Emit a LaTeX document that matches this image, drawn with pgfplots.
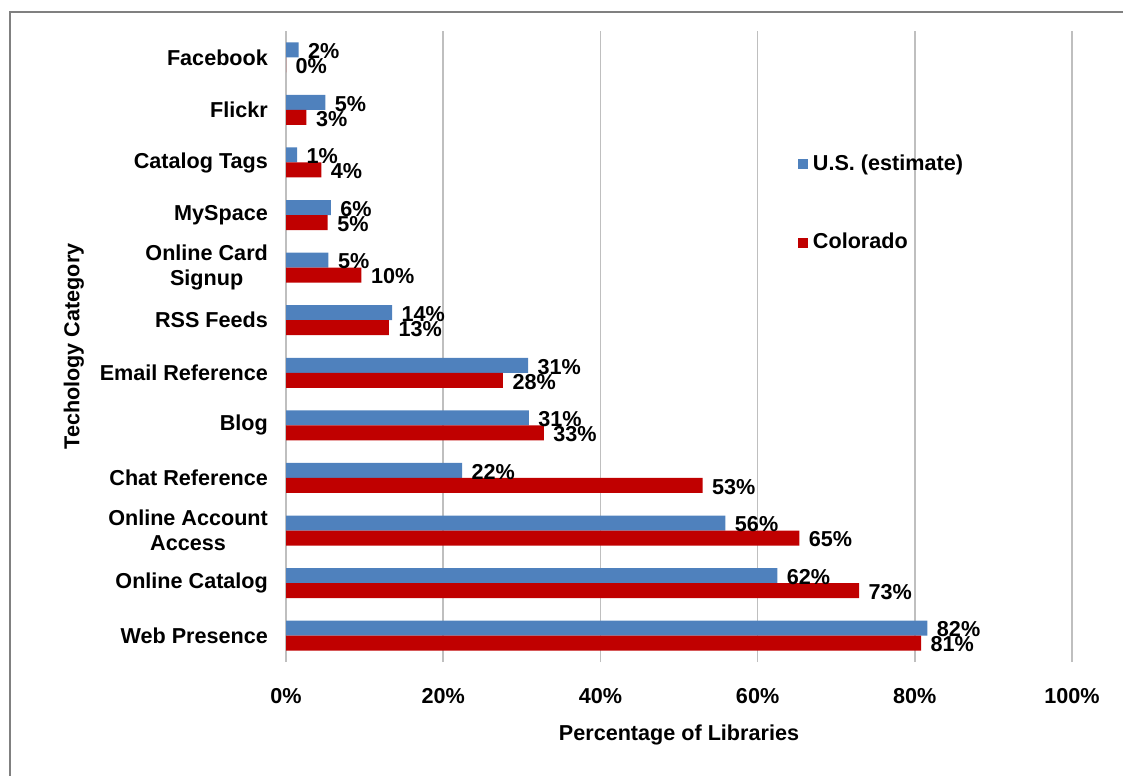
\documentclass[border=0pt]{standalone}
\usepackage{pgfplots}
\pgfplotsset{compat=1.18}
\usepackage{pgfplotstable}
\usepackage{fontspec}
\setmainfont{Liberation Sans}
\definecolor{usblue}{HTML}{4F81BD}
\definecolor{cored}{HTML}{C00000}
\definecolor{gridgray}{HTML}{BFBFBF}

\pgfplotstableread{
idx us uslab
0 81.6 82\%
1 62.5 62\%
2 55.9 56\%
3 22.4 22\%
4 30.9 31\%
5 30.8 31\%
6 13.5 14\%
7 5.4 5\%
8 5.7 6\%
9 1.4 1\%
10 5.0 5\%
11 1.6 2\%
}\ustable
\pgfplotstableread{
idx co colab
0 80.8 81\%
1 72.9 73\%
2 65.3 65\%
3 53.0 53\%
4 32.8 33\%
5 27.6 28\%
6 13.1 13\%
7 9.6 10\%
8 5.3 5\%
9 4.5 4\%
10 2.6 3\%
11 0.0 0\%
}\cotable

\begin{document}
\fontsize{16.2}{19}\selectfont\bfseries
\begin{tikzpicture}
\useasboundingbox (0,0) rectangle (842.25pt,-581.25pt);
\draw[color=gray, line width=1.5pt] (7.5pt,-600pt) -- (7.5pt,-9pt) -- (860pt,-9pt);
\begin{axis}[
  at={(214.5pt,-496.5pt)}, anchor=south west,
  scale only axis,
  width=589.5pt, height=473.25pt,
  xbar, bar width=11.25pt,
  xmin=0, xmax=100,
  ymin=-0.5, ymax=11.5,
  xtick={0,20,40,60,80,100},
  xticklabels={0\%,20\%,40\%,60\%,80\%,100\%},
  ytick={0,...,11},
  yticklabels={Web Presence,Online Catalog,{Online Account\\Access},Chat Reference,Blog,Email Reference,RSS Feeds,{Online Card\\Signup},MySpace,Catalog Tags,Flickr,Facebook},
  yticklabel style={align=center, font=\fontsize{16.2}{19}\selectfont\bfseries, xshift=-8pt},
  xticklabel style={font=\fontsize{16.2}{19}\selectfont\bfseries, yshift=-14pt},
  major tick length=0pt,
  xmajorgrids, grid style={gridgray, line width=1.3pt},
  axis line style={draw=none},
  xlabel={Percentage of Libraries},
  ylabel={Techology Category},
  xlabel style={at={(axis description cs:0.5,-0.116)}, anchor=center, font=\fontsize{16.2}{19}\selectfont\bfseries},
  ylabel style={at={(axis description cs:-0.27,0.5)}, anchor=center, rotate=0, font=\fontsize{16.2}{19}\selectfont\bfseries},
  nodes near coords,
  point meta=explicit symbolic,
  every node near coord/.append style={font=\fontsize{16.2}{19}\selectfont\bfseries, anchor=west, inner sep=2pt, xshift=5pt, yshift=-1pt, text=black},
  legend style={at={(axis description cs:0.6506,0.727)}, anchor=west, draw=none, fill=none,
    font=\fontsize{16.2}{19}\selectfont\bfseries, row sep=41pt, inner sep=0pt, cells={anchor=west}},
  legend image code/.code={\fill[#1] (0pt,-3.75pt) rectangle (7.5pt,3.75pt); \path (9.5pt,0pt);},
  clip=false,
]
\addplot[fill=usblue, draw=none, bar shift=5.625pt] table[x=us, y=idx, meta=uslab] {\ustable};
\addplot[fill=cored, draw=none, bar shift=-5.625pt] table[x=co, y=idx, meta=colab] {\cotable};
\legend{U.S. (estimate),Colorado}
\end{axis}
\end{tikzpicture}
\end{document}
